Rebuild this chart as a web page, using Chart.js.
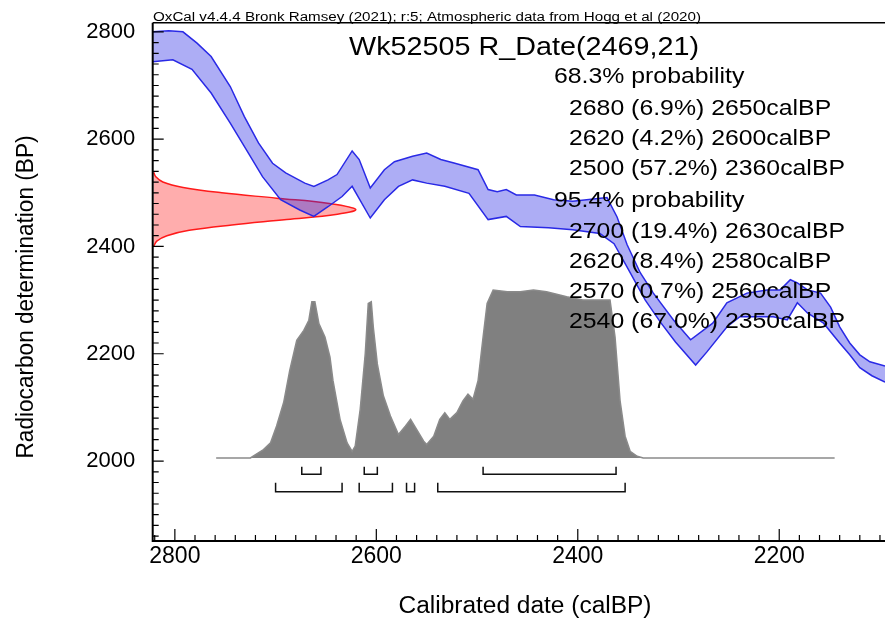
<!DOCTYPE html>
<html>
<head>
<meta charset="utf-8">
<script src="https://cdn.jsdelivr.net/npm/chart.js@4.4.1/dist/chart.umd.min.js"></script>
<style>
  html, body { margin: 0; padding: 0; background: #fff; }
</style>
</head>
<body>
<canvas id="oxcal_chart" width="885" height="619"></canvas>
<script>
// calibration curve band, upper edge (calBP -> BP)
const curve_upper_calbp = [2822, 2806, 2792, 2778, 2764, 2745, 2731, 2717, 2703, 2690, 2671, 2662, 2648, 2639, 2624, 2617, 2606, 2592, 2582, 2564, 2550, 2536, 2522, 2499, 2489, 2480, 2471, 2461, 2443, 2424, 2405, 2371, 2361, 2351, 2338, 2325, 2305, 2288, 2266, 2252, 2232, 2212, 2199, 2189, 2182, 2172, 2159, 2149, 2140, 2130, 2120, 2110, 2095]
const curve_upper_bp = [2800, 2802, 2800, 2779, 2754, 2698, 2642, 2593, 2555, 2537, 2518, 2512, 2524, 2534, 2578, 2562, 2509, 2543, 2558, 2568, 2574, 2562, 2555, 2543, 2506, 2502, 2506, 2496, 2496, 2487, 2484, 2491, 2455, 2403, 2351, 2313, 2263, 2226, 2257, 2295, 2313, 2319, 2319, 2338, 2332, 2319, 2313, 2287, 2250, 2220, 2198, 2185, 2177]

// calibration curve band, lower edge
const curve_lower_calbp = [2822, 2802, 2783, 2764, 2745, 2727, 2713, 2695, 2676, 2662, 2648, 2634, 2624, 2606, 2592, 2578, 2564, 2550, 2532, 2508, 2489, 2471, 2457, 2429, 2405, 2378, 2364, 2348, 2333, 2318, 2303, 2283, 2272, 2252, 2239, 2206, 2192, 2182, 2172, 2156, 2140, 2130, 2120, 2108, 2095]
const curve_lower_bp = [2744, 2748, 2730, 2686, 2630, 2574, 2530, 2487, 2468, 2456, 2474, 2493, 2512, 2453, 2487, 2512, 2524, 2518, 2512, 2499, 2450, 2456, 2437, 2435, 2431, 2424, 2405, 2351, 2300, 2259, 2222, 2179, 2203, 2250, 2269, 2269, 2263, 2295, 2276, 2257, 2220, 2198, 2174, 2159, 2147]

// the radiocarbon measurement R_Date(2469,21), relative density along the BP axis
const date_bp = [2400, 2410, 2420, 2430, 2440, 2450, 2460, 2469, 2480, 2490, 2500, 2510, 2520, 2530, 2538]
const date_density = [0.005, 0.02, 0.07, 0.18, 0.39, 0.66, 0.91, 1, 0.87, 0.61, 0.34, 0.15, 0.05, 0.015, 0.005]

// calibrated distribution (grey), relative probability
const calib_calbp = [2759, 2725, 2712, 2705, 2699, 2692, 2686, 2679, 2672, 2667, 2664, 2661, 2657, 2651, 2646, 2643, 2636, 2629, 2624, 2621, 2616, 2611, 2608, 2605, 2603, 2599, 2593, 2586, 2578, 2571, 2566, 2560, 2553, 2550, 2543, 2537, 2532, 2527, 2520, 2514, 2509, 2504, 2499, 2494, 2490, 2484, 2470, 2457, 2444, 2431, 2418, 2411, 2395, 2368, 2363, 2358, 2353, 2348, 2341, 2335, 2145]
const calib_prob = [0, 0, 0.05, 0.09, 0.19, 0.33, 0.52, 0.70, 0.76, 0.82, 0.93, 0.93, 0.80, 0.72, 0.60, 0.46, 0.23, 0.09, 0.04, 0.07, 0.29, 0.62, 0.92, 0.93, 0.78, 0.56, 0.37, 0.25, 0.14, 0.19, 0.23, 0.17, 0.10, 0.08, 0.13, 0.23, 0.27, 0.23, 0.27, 0.34, 0.38, 0.35, 0.46, 0.72, 0.92, 1.0, 0.99, 0.99, 1.0, 0.99, 0.97, 0.96, 0.94, 0.94, 0.72, 0.34, 0.13, 0.04, 0.01, 0, 0]

// ranges under the distribution
const range68_from = [2674, 2612, 2494]
const range68_to = [2655, 2599, 2362]
const range95_from = [2700, 2617, 2570, 2539]
const range95_to = [2634, 2584, 2562, 2353]

// ticks and texts
const x_tick_labels = [2800, 2600, 2400, 2200]
const y_tick_labels = [2000, 2200, 2400, 2600, 2800]
const header_text = 'OxCal v4.4.4 Bronk Ramsey (2021); r:5; Atmospheric data from Hogg et al (2020)'
const title_text = 'Wk52505 R_Date(2469,21)'
const text_68 = '68.3% probability'
const lines_68 = ['2680 (6.9%) 2650calBP', '2620 (4.2%) 2600calBP', '2500 (57.2%) 2360calBP']
const text_95 = '95.4% probability'
const lines_95 = ['2700 (19.4%) 2630calBP', '2620 (8.4%) 2580calBP', '2570 (0.7%) 2560calBP', '2540 (67.0%) 2350calBP']
const x_title = 'Calibrated date (calBP)'
const y_title = 'Radiocarbon determination (BP)'

const font_family = "'Liberation Sans', Arial, Helvetica, sans-serif"

function zip_points(xs, ys) {
  return xs.map((x, i) => ({x: x, y: ys[i]}))
}

// each range becomes a small bracket: up, along, up
function bracket_sets(froms, tos, level, top) {
  return froms.map((a, i) => ({
    data: [{x: a, y: top}, {x: a, y: level}, {x: tos[i], y: level}, {x: tos[i], y: top}],
    borderColor: '#111',
    borderWidth: 1.5,
    pointRadius: 0,
    fill: false,
    yAxisID: 'yp',
    order: 0
  }))
}

function text_scale(ctx, text, size, target) {
  ctx.font = size + 'px ' + font_family
  return target / ctx.measureText(text).width
}

function draw_text(ctx, text, x, y, size, sx, align) {
  ctx.save()
  ctx.font = size + 'px ' + font_family
  ctx.textAlign = align
  ctx.textBaseline = 'alphabetic'
  ctx.fillStyle = '#000'
  ctx.translate(x, y)
  ctx.scale(sx, 1)
  ctx.fillText(text, 0, 0)
  ctx.restore()
}

// frame, inward ticks and all the OxCal texts
const oxcal_decor = {
  id: 'oxcal_decor',
  afterDatasetsDraw(chart) {
    const ctx = chart.ctx
    const area = chart.chartArea
    const xs = chart.scales.x
    const ys = chart.scales.y
    ctx.save()
    ctx.strokeStyle = '#000'
    ctx.lineWidth = 1.2
    ctx.beginPath()
    for (let v = Math.ceil(xs.min / 20) * 20; v <= xs.max; v += 20) {
      const px = xs.getPixelForValue(v)
      const len = v % 200 === 0 ? 12 : 6
      ctx.moveTo(px, area.bottom)
      ctx.lineTo(px, area.bottom - len)
    }
    for (let v = Math.ceil(ys.min / 20) * 20; v <= ys.max; v += 20) {
      const py = ys.getPixelForValue(v)
      const len = v % 200 === 0 ? 11 : 6
      ctx.moveTo(area.left, py)
      ctx.lineTo(area.left + len, py)
    }
    ctx.stroke()

    ctx.lineWidth = 2
    ctx.beginPath()
    ctx.moveTo(area.left, area.top)
    ctx.lineTo(area.left, area.bottom)
    ctx.lineTo(area.right, area.bottom)
    ctx.stroke()
    ctx.lineWidth = 1.5
    ctx.beginPath()
    ctx.moveTo(area.left, area.top)
    ctx.lineTo(area.right, area.top)
    ctx.stroke()
    ctx.restore()

    // texts
    const sx_head = text_scale(ctx, header_text, 12, 548)
    draw_text(ctx, header_text, 153, 20.5, 12, sx_head, 'left')
    const sx_title = text_scale(ctx, title_text, 26, 350)
    draw_text(ctx, title_text, 524, 55, 26, sx_title, 'center')

    const sx_lines = text_scale(ctx, lines_68[2], 22, 276)
    const baselines = [83, 115, 145, 175, 207, 238, 268, 298, 328]
    draw_text(ctx, text_68, 554, baselines[0], 22, sx_lines, 'left')
    lines_68.forEach((t, i) => draw_text(ctx, t, 569, baselines[1 + i], 22, sx_lines, 'left'))
    draw_text(ctx, text_95, 554, baselines[4], 22, sx_lines, 'left')
    lines_95.forEach((t, i) => draw_text(ctx, t, 569, baselines[5 + i], 22, sx_lines, 'left'))

    const sx_xt = text_scale(ctx, x_title, 23, 253)
    draw_text(ctx, x_title, 525, 613, 23, sx_xt, 'center')

    ctx.save()
    ctx.translate(33, 297)
    ctx.rotate(-Math.PI / 2)
    const sx_yt = text_scale(ctx, y_title, 23, 323)
    draw_text(ctx, y_title, 0, 0, 23, sx_yt, 'center')
    ctx.restore()
  }
}

const datasets = [
  {
    // upper edge, filled down to the lower edge
    data: zip_points(curve_upper_calbp, curve_upper_bp),
    borderColor: '#2a2ae6',
    borderWidth: 1.5,
    backgroundColor: 'rgba(40, 40, 230, 0.38)',
    pointRadius: 0,
    fill: '+1',
    order: 1
  },
  {
    data: zip_points(curve_lower_calbp, curve_lower_bp),
    borderColor: '#2a2ae6',
    borderWidth: 1.5,
    pointRadius: 0,
    fill: false,
    order: 1
  },
  {
    data: zip_points(date_density, date_bp),
    borderColor: '#ff1a1a',
    borderWidth: 1.5,
    backgroundColor: 'rgba(255, 40, 40, 0.38)',
    pointRadius: 0,
    tension: 0.4,
    fill: 'shape',
    xAxisID: 'xd',
    order: 2
  },
  {
    data: zip_points(calib_calbp, calib_prob),
    borderColor: '#8a8a8a',
    borderWidth: 1.5,
    backgroundColor: '#808080',
    pointRadius: 0,
    fill: 'origin',
    yAxisID: 'yp',
    order: 3
  }
].concat(
  bracket_sets(range68_from, range68_to, -0.097, -0.052),
  bracket_sets(range95_from, range95_to, -0.2006, -0.147)
)

new Chart(document.getElementById('oxcal_chart'), {
  type: 'line',
  data: { datasets: datasets },
  options: {
    responsive: false,
    animation: false,
    devicePixelRatio: 1,
    layout: { padding: { top: 22.7, left: 0, right: 0, bottom: 0 } },
    plugins: { legend: { display: false }, tooltip: { enabled: false } },
    scales: {
      x: {
        type: 'linear',
        reverse: true,
        min: 2095,
        max: 2822,
        grid: { display: false },
        border: { display: false },
        ticks: { color: '#000', padding: -6, font: { family: font_family, size: 23 }, callback: (v) => String(v) },
        afterBuildTicks: (scale) => { scale.ticks = x_tick_labels.map(v => ({value: v})) },
        afterFit: (scale) => { scale.height = 78 }
      },
      y: {
        type: 'linear',
        min: 1851,
        max: 2817,
        grid: { display: false },
        border: { display: false },
        ticks: { color: '#000', padding: 9.5, font: { family: font_family, size: 22 }, callback: (v) => String(v) },
        afterBuildTicks: (scale) => { scale.ticks = y_tick_labels.map(v => ({value: v})) },
        afterFit: (scale) => { scale.width = 152.7 }
      },
      xd: { type: 'linear', display: false, min: 0, max: 3.607 },
      yp: { type: 'linear', display: false, min: -0.4941, max: 2.5911 }
    }
  },
  plugins: [oxcal_decor]
})
</script>
</body>
</html>
